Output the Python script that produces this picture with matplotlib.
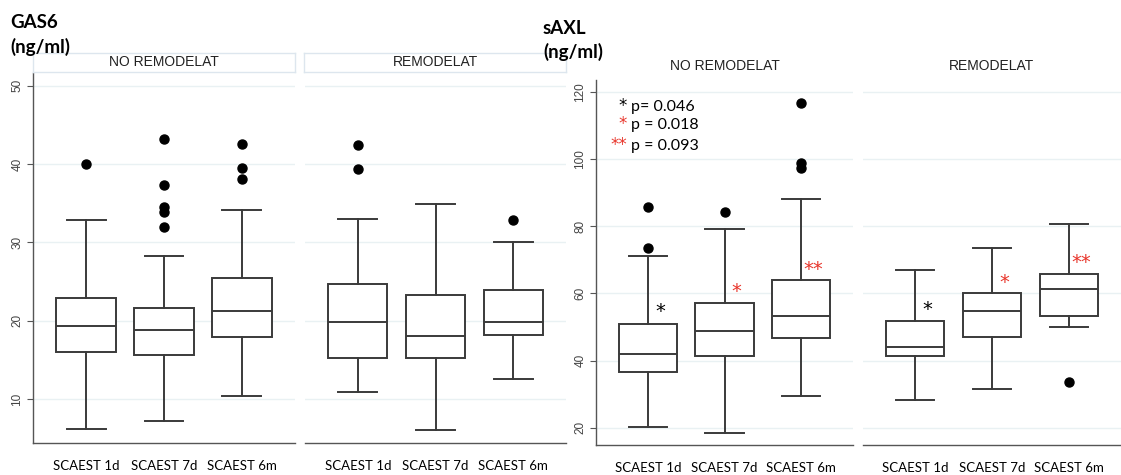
import matplotlib
matplotlib.use("Agg")
import matplotlib.pyplot as plt
from matplotlib import font_manager

# ---------------- data ----------------
groups = ["SCAEST 1d", "SCAEST 7d", "SCAEST 6m"]
panels = ["NO REMODELAT", "REMODELAT"]

# GAS6 (ng/ml): [whislo, q1, median, q3, whishi]
gas6_no_stats = [[6.2, 16.0, 19.3, 22.9, 32.8],
                 [7.2, 15.6, 18.8, 21.6, 28.3],
                 [10.4, 17.9, 21.3, 25.5, 34.1]]
gas6_no_fliers = [[40.0],
                  [43.2, 37.3, 34.5, 33.9, 31.9],
                  [42.6, 39.5, 38.1]]
gas6_re_stats = [[10.9, 15.2, 19.8, 24.7, 33.0],
                 [6.0, 15.2, 18.1, 23.3, 34.9],
                 [12.6, 18.2, 19.8, 23.9, 30.0]]
gas6_re_fliers = [[42.4, 39.4], [], [32.9]]

# sAXL (ng/ml)
saxl_no_stats = [[20.2, 36.7, 42.1, 50.8, 71.1],
                 [18.6, 41.3, 48.7, 57.1, 79.2],
                 [29.4, 46.6, 53.3, 64.1, 88.2]]
saxl_no_fliers = [[85.8, 73.6], [84.3], [116.8, 98.9, 97.2]]
saxl_re_stats = [[28.2, 41.4, 44.1, 51.8, 66.9],
                 [31.6, 47.1, 54.8, 60.0, 73.4],
                 [49.9, 53.2, 61.2, 65.7, 80.8]]
saxl_re_fliers = [[], [], [33.5]]

# significance markers (symbol, colour, y-value) per box
saxl_no_marks = [("*", "black", 54.7), ("*", "red", 60.7), ("**", "red", 67.1)]
saxl_re_marks = [("*", "black", 55.2), ("*", "red", 63.2), ("**", "red", 69.1)]
pvalue_lines = [("*", "black", "p= 0.046"), ("*", "red", "p = 0.018"), ("**", "red", "p = 0.093")]

gas6_ticks = [10, 20, 30, 40, 50]
saxl_ticks = [20, 40, 60, 80, 100, 120]

RED = "#e8352b"
LINE = "#3a3a3a"
GRID = "#e9f1f3"

installed = {f.name for f in font_manager.fontManager.ttflist}
NARROW = ["Liberation Sans Narrow"] if "Liberation Sans Narrow" in installed else []
XFONT = NARROW + ["Lato", "DejaVu Sans"]
XSIZE = 10.5 if NARROW else 9.5

W, H = 1121, 475
fig = plt.figure(figsize=(W / 100, H / 100), dpi=100)


def add_ax(x0, x1, ytop, ybot):
    return fig.add_axes([x0 / W, 1 - ybot / H, (x1 - x0) / W, (ybot - ytop) / H])


def make_stats(stats, fliers):
    out = []
    for s, f in zip(stats, fliers):
        out.append(dict(whislo=s[0], q1=s[1], med=s[2], q3=s[3], whishi=s[4], fliers=f))
    return out


def draw_panel(ax, stats, fliers, ylim, ticks, first):
    ax.set_xlim(0.32, 3.68)
    ax.set_ylim(*ylim)
    for t in ticks:
        ax.axhline(t, color=GRID, lw=1.0, zorder=0)
    lw = 1.4
    ax.bxp(make_stats(stats, fliers), positions=[1, 2, 3], widths=0.76,
           capwidths=0.5, showfliers=True, patch_artist=True,
           boxprops=dict(facecolor="white", edgecolor=LINE, linewidth=lw),
           medianprops=dict(color=LINE, linewidth=lw),
           whiskerprops=dict(color=LINE, linewidth=lw),
           capprops=dict(color=LINE, linewidth=lw),
           flierprops=dict(marker="o", markerfacecolor="black", markeredgecolor="black",
                           markersize=6.5))
    for s in ["top", "right"]:
        ax.spines[s].set_visible(False)
    ax.spines["bottom"].set_color("#555555")
    ax.spines["bottom"].set_linewidth(1.0)
    ax.set_xticks([1, 2, 3])
    ax.set_xticklabels(groups, fontsize=XSIZE, family=XFONT)
    ax.tick_params(axis="x", length=0, pad=12, colors="black")
    if first:
        ax.spines["left"].set_color("#555555")
        ax.spines["left"].set_linewidth(1.0)
        ax.set_yticks(ticks)
        ax.set_yticklabels([str(t) for t in ticks], rotation=90, va="center",
                           fontsize=8.5, color="#444444", family="Liberation Sans")
        ax.tick_params(axis="y", length=4, width=0.8, color="#555555", pad=3)
    else:
        ax.spines["left"].set_visible(False)
        ax.set_yticks([])


# ---------------- GAS6 ----------------
g_ylim = (4.4, 51.6)
ax1 = add_ax(33, 295, 73, 443)
draw_panel(ax1, gas6_no_stats, gas6_no_fliers, g_ylim, gas6_ticks, True)
ax2 = add_ax(305, 566, 73, 443)
draw_panel(ax2, gas6_re_stats, gas6_re_fliers, g_ylim, gas6_ticks, False)

# strips with light border
for (x0, x1), label in zip([(33, 295), (304, 566)], panels):
    sax = add_ax(x0, x1, 53, 72)
    sax.set_xticks([]); sax.set_yticks([])
    sax.patch.set_facecolor("white")
    for sp in sax.spines.values():
        sp.set_color("#dde6ee")
        sp.set_linewidth(1.0)
    sax.text(0.5, 0.5, label, ha="center", va="center", fontsize=10,
             family="Liberation Sans", color="#222222", transform=sax.transAxes)

fig.text(10 / W, 1 - 22 / H, "GAS6", fontsize=13.5, fontweight="bold", family="Lato",
         ha="left", va="center")
fig.text(10 / W, 1 - 47 / H, "(ng/ml)", fontsize=13.5, fontweight="bold", family="Lato",
         ha="left", va="center")

# ---------------- sAXL ----------------
s_ylim = (14.9, 123.5)
ax3 = add_ax(596, 853, 80, 445)
draw_panel(ax3, saxl_no_stats, saxl_no_fliers, s_ylim, saxl_ticks, True)
ax4 = add_ax(863, 1121, 80, 445)
draw_panel(ax4, saxl_re_stats, saxl_re_fliers, s_ylim, saxl_ticks, False)

for ax, label in zip([ax3, ax4], panels):
    ax.annotate(label, xy=(0.5, 1), xycoords="axes fraction", xytext=(0, 10),
                textcoords="offset points", ha="center", va="center", fontsize=10,
                family="Liberation Sans", color="#222222")

for ax, marks in [(ax3, saxl_no_marks), (ax4, saxl_re_marks)]:
    for i, (sym, col, yv) in enumerate(marks):
        ax.text(i + 1 + 0.16, yv, sym, color=RED if col == "red" else "black",
                ha="center", va="center", fontsize=14, family="DejaVu Sans")

# p-value legend
p_y = [107, 125, 146]
for (sym, col, txt), yp in zip(pvalue_lines, p_y):
    fig.text(627 / W, 1 - (yp - 1) / H, sym, color=RED if col == "red" else "black",
             ha="right", va="center", fontsize=12, family="DejaVu Sans")
    fig.text(631 / W, 1 - yp / H, txt, color="black", ha="left", va="center",
             fontsize=11.5, family="Lato")

fig.text(543 / W, 1 - 28 / H, "sAXL", fontsize=13.5, fontweight="bold", family="Lato",
         ha="left", va="center")
fig.text(543 / W, 1 - 52 / H, "(ng/ml)", fontsize=13.5, fontweight="bold", family="Lato",
         ha="left", va="center")

fig.savefig("out.png", dpi=100, facecolor="white")
